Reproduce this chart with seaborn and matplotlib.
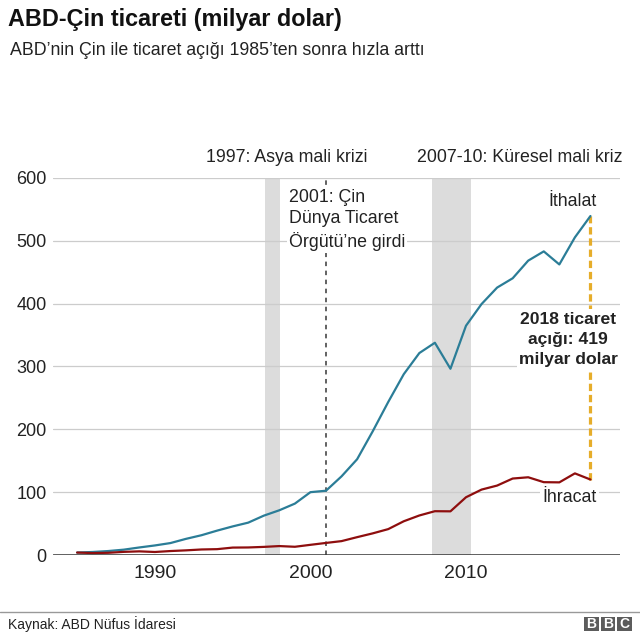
import pandas as pd
import numpy as np
import matplotlib
matplotlib.use("Agg")
import matplotlib.pyplot as plt
import seaborn as sns

# US-China trade, billion dollars
years = list(range(1985, 2019))
imports_bn = [3.9, 4.8, 6.3, 8.5, 12.0, 15.2, 19.0, 25.7, 31.5, 38.8, 45.5, 51.5,
              62.6, 71.2, 81.8, 100.0, 102.3, 125.2, 152.4, 196.7, 243.5, 287.8,
              321.4, 337.8, 296.4, 364.9, 399.4, 425.6, 440.4, 468.5, 483.2, 462.4,
              505.5, 539.5]
exports_bn = [3.9, 3.1, 3.5, 5.0, 5.8, 4.8, 6.3, 7.4, 8.8, 9.3, 11.8, 12.0,
              12.9, 14.2, 13.1, 16.2, 19.2, 22.1, 28.4, 34.4, 41.2, 53.7,
              62.9, 69.7, 69.5, 91.9, 104.1, 110.5, 121.7, 123.7, 115.9, 115.6,
              129.9, 120.1]
series_names = ["İthalat", "İhracat"]
yticks = [0, 100, 200, 300, 400, 500, 600]
xticks = [1990, 2000, 2010]
crisis_1997 = (1997.05, 1998.05)
crisis_2008 = (2007.8, 2010.3)
wto_year = 2001

df = pd.DataFrame({
    "year": years * 2,
    "value": imports_bn + exports_bn,
    "series": [series_names[0]] * len(years) + [series_names[1]] * len(years),
})

sns.set_style("white")
plt.rcParams["font.family"] = ["Liberation Sans", "DejaVu Sans"]

TEAL = "#2b7d97"
RED = "#8e0e0e"
GOLD = "#e6ad2a"
TXT = "#222222"

fig = plt.figure(figsize=(6.4, 6.36), dpi=100)
ax = fig.add_axes([53 / 640, 1 - 555 / 636, 567 / 640, 377 / 636])

ax.axvspan(*crisis_1997, color="#dcdcdc", lw=0, zorder=0.2)
ax.axvspan(*crisis_2008, color="#dcdcdc", lw=0, zorder=0.2)

sns.lineplot(data=df, x="year", y="value", hue="series",
             palette={series_names[0]: TEAL, series_names[1]: RED},
             linewidth=1.6, legend=False, ax=ax, zorder=3)

ax.axvline(wto_year, color="#555555", lw=1.3, ls=(0, (2.5, 2.5)), zorder=2)
ax.plot([years[-1], years[-1]], [exports_bn[-1], imports_bn[-1]],
        color=GOLD, lw=2.3, ls=(0, (2.3, 1.2)), zorder=2)
ax.axhline(0, color="#333333", lw=1.8, zorder=4)

ax.set_xlim(1983.45, 2019.9)
ax.set_ylim(0, 600)
ax.set_yticks(yticks)
ax.set_xticks(xticks)
ax.grid(axis="y", color="#cccccc", lw=0.9)
ax.grid(axis="x", visible=False)
ax.set_axisbelow(True)
for s in ax.spines.values():
    s.set_visible(False)
ax.tick_params(axis="y", length=0, pad=4.5, labelsize=13, labelcolor=TXT)
ax.tick_params(axis="x", length=0, pad=7.5, labelsize=14, labelcolor=TXT)
ax.set_xlabel("")
ax.set_ylabel("")

white_box = dict(facecolor="white", edgecolor="none", pad=1.5)
ann = 12.8

ax.text(1998.45, 633, "1997: Asya mali krizi", ha="center", va="center",
        fontsize=ann, color=TXT, clip_on=False)
ax.text(2013.46, 633, "2007-10: Küresel mali kriz", ha="center", va="center",
        fontsize=ann, color=TXT, clip_on=False)
ax.text(1998.6, 533, "2001: Çin\nDünya Ticaret\nÖrgütü’ne girdi", ha="left", va="center",
        fontsize=ann, color=TXT, linespacing=1.33, bbox=white_box, zorder=5)
ax.text(2018.4, 562, "İthalat", ha="right", va="center", fontsize=ann, color=TXT, zorder=5)
ax.text(2018.4, 91, "İhracat", ha="right", va="center", fontsize=ann, color=TXT,
        bbox=white_box, zorder=5)
ax.text(2016.57, 343, "2018 ticaret\naçığı: 419\nmilyar dolar", ha="center", va="center",
        fontsize=12.6, fontweight="bold", color=TXT, linespacing=1.45,
        bbox=white_box, zorder=5)

fig.text(8 / 640, 1 - 8 / 636, "ABD-Çin ticareti (milyar dolar)", ha="left", va="top",
         fontsize=16.8, fontweight="bold", color="#111111")
fig.text(10 / 640, 1 - 42 / 636, "ABD’nin Çin ile ticaret açığı 1985’ten sonra hızla arttı",
         ha="left", va="top", fontsize=12.8, color=TXT)

# footer rule, source and logo
fig.add_artist(plt.Line2D([0, 1], [1 - 612 / 636] * 2, color="#999999", lw=1.0))
fig.text(8 / 640, 1 - 624 / 636, "Kaynak: ABD Nüfus İdaresi", ha="left", va="center",
         fontsize=10, color=TXT)
for i, letter in enumerate("BBC"):
    x0 = (584 + i * 16.5) / 640
    fig.add_artist(plt.Rectangle((x0, 1 - 631 / 636), 14.5 / 640, 14.5 / 636,
                                 facecolor="#5c5c5c", edgecolor="none",
                                 transform=fig.transFigure))
    fig.text(x0 + 7.25 / 640, 1 - 624 / 636, letter, ha="center", va="center",
             fontsize=10, color="white", fontweight="bold")

fig.savefig("out.png", dpi=100)
